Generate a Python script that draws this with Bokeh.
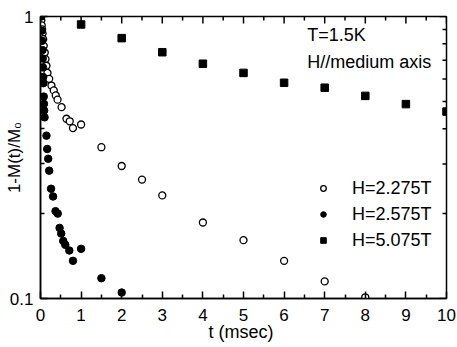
import math
from bokeh.plotting import figure
from bokeh.models import (FixedTicker, Legend, LegendItem, Label,
                          CustomJSTickFormatter, Range1d)
from bokeh.embed import file_html
from bokeh.resources import INLINE

# ---- data ----
t_2275 = [0.02, 0.03, 0.04, 0.05, 0.066, 0.08, 0.105, 0.123, 0.147, 0.172, 0.214,
          0.27, 0.327, 0.376, 0.42, 0.52, 0.64, 0.72, 0.80, 1.0, 1.5, 2.0, 2.5,
          3.0, 4.0, 5.0, 6.0, 7.0, 8.0]
v_2275 = [0.97, 0.93, 0.90, 0.87, 0.831, 0.787, 0.745, 0.706, 0.669, 0.631, 0.601,
          0.569, 0.547, 0.525, 0.507, 0.477, 0.434, 0.425, 0.402, 0.414, 0.344, 0.295,
          0.264, 0.232, 0.186, 0.161, 0.136, 0.115, 0.101]

t_2575 = [0.02, 0.03, 0.04, 0.05, 0.055, 0.06, 0.065, 0.07, 0.08, 0.085, 0.09, 0.10,
          0.147, 0.165, 0.19, 0.214, 0.26, 0.31, 0.37, 0.425, 0.47, 0.51, 0.56, 0.61,
          0.71, 0.80, 1.0, 1.5, 2.0]
v_2575 = [1.0, 0.89, 0.82, 0.76, 0.71, 0.66, 0.61, 0.58, 0.52, 0.49, 0.464, 0.439,
          0.378, 0.339, 0.313, 0.284, 0.245, 0.230, 0.204, 0.200, 0.178, 0.170, 0.160,
          0.155, 0.148, 0.136, 0.150, 0.118, 0.105]

t_5075 = [1, 2, 3, 4, 5, 6, 7, 8, 9, 10]
v_5075 = [0.937, 0.838, 0.747, 0.680, 0.631, 0.582, 0.559, 0.523, 0.489, 0.460]

x_major = [0, 1, 2, 3, 4, 5, 6, 7, 8, 9, 10]
x_minor = [0.5, 1.5, 2.5, 3.5, 4.5, 5.5, 6.5, 7.5, 8.5, 9.5]
y_major = [0.1, 1]
y_minor = [0.2, 0.3, 0.4, 0.5, 0.6, 0.7, 0.8, 0.9]
x_lim = [0, 10]
y_lim = [0.1, 1]

series_labels = ["H=2.275T", "H=2.575T", "H=5.075T"]

FONT = "Liberation Sans"

p = figure(frame_width=406, frame_height=282,
           x_range=Range1d(*x_lim), y_range=Range1d(*y_lim),
           y_axis_type="log", output_backend="svg", toolbar_location=None,
           min_border_left=40, min_border_right=11, min_border_top=16,
           min_border_bottom=49)
p.grid.visible = False
p.outline_line_color = "black"
p.outline_line_width = 1.5
p.background_fill_color = "white"
p.border_fill_color = "white"


def style(ax):
    ax.axis_line_width = 1.5
    ax.axis_line_color = "black"
    ax.major_tick_in = 7
    ax.major_tick_out = 0
    ax.minor_tick_in = 4
    ax.minor_tick_out = 0
    ax.major_tick_line_width = 1.5
    ax.minor_tick_line_width = 1.5
    ax.major_tick_line_color = "black"
    ax.minor_tick_line_color = "black"
    ax.major_label_text_font = FONT
    ax.major_label_text_color = "black"
    ax.major_label_text_font_size = "17px"
    ax.axis_label_text_font = FONT
    ax.axis_label_text_font_style = "normal"
    ax.axis_label_text_color = "black"
    ax.axis_label_text_font_size = "18px"


xa = p.xaxis[0]
xa.ticker = FixedTicker(ticks=x_major, minor_ticks=x_minor)
style(xa)
xa.major_label_standoff = 10
xa.axis_label = "t  (msec)"
xa.axis_label_standoff = -2

ya = p.yaxis[0]
ya.ticker = FixedTicker(ticks=y_major, minor_ticks=y_minor)
ya.formatter = CustomJSTickFormatter(code="return (Math.round(tick*10)/10).toString();")
style(ya)
ya.axis_label_text_font_size = "17px"
ya.major_label_standoff = 7
ya.axis_label = "1-M(t)/M\u2080"
ya.axis_label_standoff = -17

# mirrored inward ticks on the top and right frame edges (half of each dash is clipped)
tick_kw = dict(marker="dash", line_color="black", line_width=1.5)
p.scatter(x_major, [y_lim[1]] * len(x_major), angle=math.pi / 2, size=14, **tick_kw)
p.scatter(x_minor, [y_lim[1]] * len(x_minor), angle=math.pi / 2, size=8, **tick_kw)
p.scatter([x_lim[1]] * len(y_major), y_major, size=14, **tick_kw)
p.scatter([x_lim[1]] * len(y_minor), y_minor, size=8, **tick_kw)

r1 = p.scatter(t_2275, v_2275, marker="circle", size=7, fill_color="white",
               line_color="black", line_width=1.3)
r2 = p.scatter(t_2575, v_2575, marker="circle", size=7.5, fill_color="black",
               line_color="black")
r3 = p.scatter(t_5075, v_5075, marker="square", size=7.5, fill_color="black",
               line_color="black")

legend = Legend(items=[LegendItem(label=series_labels[0], renderers=[r1]),
                       LegendItem(label=series_labels[1], renderers=[r2]),
                       LegendItem(label=series_labels[2], renderers=[r3])],
                location=(276, 47), border_line_color=None,
                background_fill_alpha=0, padding=0, margin=0, spacing=4,
                label_height=22, glyph_height=22, glyph_width=14,
                label_standoff=22, label_text_font=FONT,
                label_text_font_size="18px", label_text_color="black")
p.add_layout(legend)

p.add_layout(Label(x=266.7, y=264, x_units="screen", y_units="screen",
                   text="T=1.5K", text_font=FONT, text_font_size="18px",
                   text_color="black", text_baseline="alphabetic"))
p.add_layout(Label(x=266.7, y=237, x_units="screen", y_units="screen",
                   text="H//medium axis", text_font=FONT, text_font_size="18px",
                   text_color="black", text_baseline="alphabetic"))

open("out.html", "w").write(file_html(p, INLINE))
